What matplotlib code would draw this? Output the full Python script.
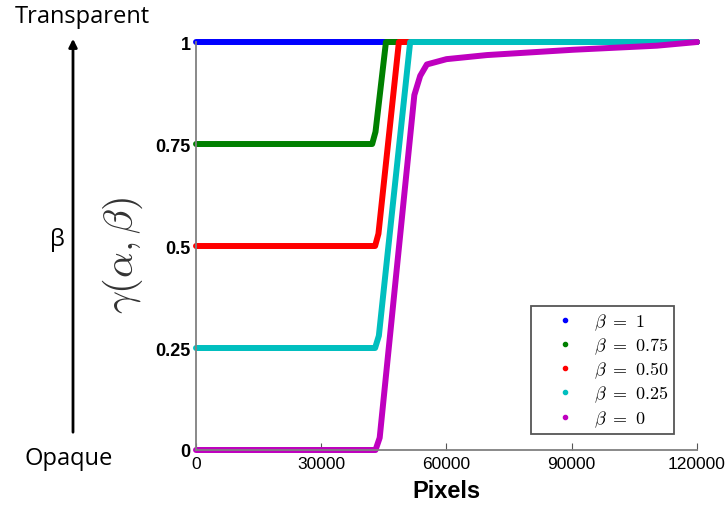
import matplotlib
matplotlib.use("Agg")
import matplotlib.pyplot as plt
from matplotlib.lines import Line2D
from matplotlib.patches import FancyArrowPatch

plt.rcParams['mathtext.fontset'] = 'cm'
plt.rcParams['font.family'] = ['Liberation Sans', 'DejaVu Sans']

# curve key points (pixels, gamma)
x_b1 = [0, 46000, 120000]
y_b1 = [1, 1, 1]
x_b75 = [0, 42200, 43000, 45500, 120000]
y_b75 = [0.75, 0.75, 0.78, 1, 1]
x_b50 = [0, 42900, 43700, 48600, 120000]
y_b50 = [0.5, 0.5, 0.53, 1, 1]
x_b25 = [0, 42900, 43800, 51300, 120000]
y_b25 = [0.25, 0.25, 0.28, 1, 1]
x_b0 = [0, 43000, 44000, 52300, 53700, 55300, 60000, 69700, 90300, 110400, 120000]
y_b0 = [0, 0, 0.03, 0.87, 0.917, 0.945, 0.958, 0.968, 0.981, 0.991, 1.0]

series = [
    (x_b1, y_b1, 'blue', r'$\beta\ =\ 1$'),
    (x_b75, y_b75, 'green', r'$\beta\ =\ 0.75$'),
    (x_b50, y_b50, 'red', r'$\beta\ =\ 0.50$'),
    (x_b25, y_b25, 'c', r'$\beta\ =\ 0.25$'),
    (x_b0, y_b0, 'm', r'$\beta\ =\ 0$'),
]
xticks = [0, 30000, 60000, 90000, 120000]
yticks = [0, 0.25, 0.5, 0.75, 1]
yticklabels = ['0', '0.25', '0.5', '0.75', '1']

fig = plt.figure(figsize=(7.27, 5.06), dpi=100)
ax = fig.add_axes([0.2696, 0.1087, 0.6891, 0.8063])

handles = []
for xs, ys, col, lab in series:
    ax.plot(xs, ys, color=col, lw=4.3, solid_capstyle='round', clip_on=False)
    handles.append(Line2D([], [], color=col, marker='.', ls='none', markersize=6, label=lab))

ax.set_xlim(0, 120000)
ax.set_ylim(0, 1)
ax.set_xticks(xticks)
ax.set_xticklabels([str(t) for t in xticks])
ax.set_yticks(yticks)
ax.set_yticklabels(yticklabels)
ax.tick_params(direction='in', length=5, labelsize=13, color='#555555', pad=4)
for lab in ax.get_xticklabels():
    lab.set_fontsize(12.5)
for lab in ax.get_yticklabels():
    lab.set_fontweight('bold')
for s in ['top', 'right']:
    ax.spines[s].set_visible(False)
for s in ['left', 'bottom']:
    ax.spines[s].set_color('#808080')
    ax.spines[s].set_linewidth(1.3)

ax.set_xlabel('Pixels', fontsize=17, fontweight='bold', labelpad=6)
ax.set_ylabel(r'$\gamma(\alpha,\beta)$', fontsize=29, color='#333333')
ax.yaxis.set_label_coords(-0.102, 0.48)

leg = ax.legend(handles=handles, loc='lower left',
                bbox_to_anchor=(531 / 727, 1 - 435 / 506), bbox_transform=fig.transFigure,
                borderaxespad=0, fontsize=13, fancybox=False, edgecolor='#555555',
                framealpha=1, handletextpad=0.0, labelspacing=0.2, borderpad=0.3,
                handlelength=3.2)
leg.get_frame().set_linewidth(1.3)

# left side annotation
fig.text(82 / 727, 1 - 17 / 506, 'Transparent', fontsize=17, ha='center', va='center', family='Open Sans')
fig.text(69 / 727, 1 - 459 / 506, 'Opaque', fontsize=17, ha='center', va='center', family='Open Sans')
fig.text(57 / 727, 1 - 240 / 506, 'β', fontsize=17, ha='center', va='center', family='Open Sans')
fig.patches.append(FancyArrowPatch(
    (73 / 727, 1 - 436 / 506), (73 / 727, 1 - 37 / 506), transform=fig.transFigure,
    arrowstyle='-|>', mutation_scale=12, color='black', lw=2))

fig.savefig('out.png', dpi=100)
